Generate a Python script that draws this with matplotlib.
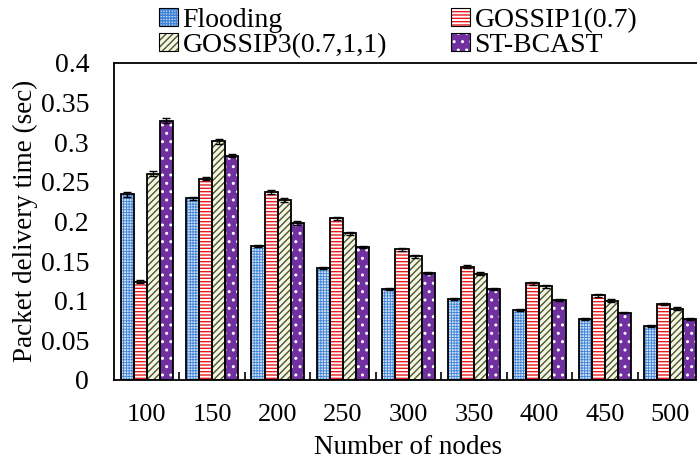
import numpy as np
import matplotlib
matplotlib.use('Agg')
import matplotlib.pyplot as plt
from matplotlib.patches import Patch

plt.rcParams['font.family'] = ['Liberation Serif', 'DejaVu Serif']

# 数据
nodes = ['100', '150', '200', '250', '300', '350', '400', '450', '500']
series = ['Flooding', 'GOSSIP1(0.7)', 'GOSSIP3(0.7,1,1)', 'ST-BCAST']
flooding = [0.234, 0.229, 0.169, 0.141, 0.115, 0.102, 0.088, 0.077, 0.068]
gossip1 = [0.124, 0.254, 0.237, 0.204, 0.165, 0.143, 0.122, 0.107, 0.096]
gossip3 = [0.260, 0.301, 0.227, 0.185, 0.156, 0.134, 0.118, 0.100, 0.090]
stbcast = [0.327, 0.283, 0.198, 0.168, 0.135, 0.115, 0.101, 0.085, 0.077]
err_flooding = [0.003, 0.002, 0.001, 0.001, 0.001, 0.001, 0.001, 0.001, 0.001]
err_gossip1 = [0.002, 0.002, 0.002, 0.002, 0.002, 0.002, 0.002, 0.002, 0.001]
err_gossip3 = [0.003, 0.003, 0.002, 0.002, 0.002, 0.002, 0.002, 0.002, 0.002]
err_stbcast = [0.003, 0.002, 0.002, 0.001, 0.001, 0.001, 0.001, 0.001, 0.001]

values = [flooding, gossip1, gossip3, stbcast]
errors = [err_flooding, err_gossip1, err_gossip3, err_stbcast]

# 样式: 填充色, 图案, 图案颜色, 图案线宽
faces = ['#cfe0f5', 'white', '#f4f5e8', '#7030a0']
hatches = ['++++++', '-----', '/////', '..']
hcolors = ['#3f82d6', '#e8191c', '#4b5520', 'white']
hwidths = [0.6, 1.0, 1.0, 1.0]

fig = plt.figure(figsize=(6.97, 4.62), dpi=100)
ax = fig.add_axes([0.1636, 0.1775, 0.845, 0.6868])

x = np.arange(len(nodes))
w = 0.2
offsets = [-0.3, -0.1, 0.1, 0.3]

handles = []
for vals, errs, fc, h, hc, hw, off in zip(values, errors, faces, hatches, hcolors, hwidths, offsets):
    plt.rcParams['hatch.linewidth'] = hw
    ax.bar(x + off, vals, width=w, color=fc, hatch=h, edgecolor=hc, linewidth=0, zorder=2)
    ax.bar(x + off, vals, width=w, fill=False, edgecolor='black', linewidth=1.3, zorder=3,
           yerr=errs, error_kw=dict(ecolor='black', elinewidth=1, capsize=3, capthick=1, zorder=4))
    handles.append((Patch(facecolor=fc, hatch=h, edgecolor=hc, linewidth=0),
                    Patch(fill=False, edgecolor='black', linewidth=0.8)))

ax.set_xlim(-0.5, len(nodes) - 0.5)
ax.set_ylim(0, 0.4)
ax.set_xticks(x)
ax.set_xticklabels(nodes, fontsize=19)
ax.set_xticks(x[:-1] + 0.5, minor=True)
ax.tick_params(axis='x', which='major', length=0, pad=17)
ax.tick_params(axis='x', which='minor', direction='in', length=6, width=1.2)
yt = np.arange(0, 0.41, 0.05)
ax.set_yticks(yt)
ax.set_yticklabels(['%g' % round(v, 2) for v in yt], fontsize=20)
ax.tick_params(axis='y', length=0, pad=18)
for s in ax.spines.values():
    s.set_linewidth(1.3)

ax.set_xlabel('Number of nodes', fontsize=19.5, labelpad=7)
ax.set_ylabel('Packet delivery time (sec)', fontsize=19.5, labelpad=2)

order = [0, 2, 1, 3]
fig.legend([handles[i] for i in order], [series[i] for i in order],
           ncol=2, loc='upper left', bbox_to_anchor=(0.2, 1.025), frameon=False,
           fontsize=20, handlelength=0.7, handleheight=0.65, handletextpad=0.15,
           columnspacing=2.3, labelspacing=0.0, borderpad=0.2)

fig.savefig('out.png', dpi=100)
